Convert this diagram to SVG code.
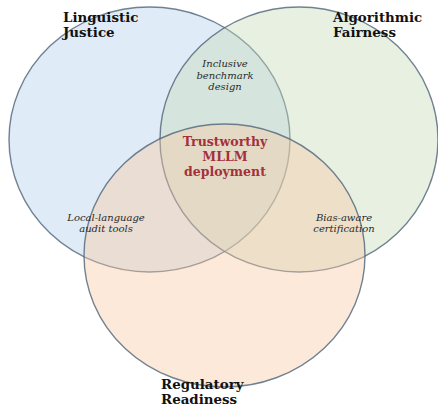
<svg xmlns="http://www.w3.org/2000/svg" width="438" height="407" viewBox="0 0 438 407">
<style>
.set{stroke:#4f6478;stroke-width:1.4;stroke-opacity:0.8}
.title{font-family:"DejaVu Serif",serif;font-weight:bold;font-size:13.4px;fill:#111}
.sub{font-family:"DejaVu Serif",serif;font-style:italic;font-size:10px;fill:#2a2a2a;text-anchor:middle}
.core{font-family:"DejaVu Serif",serif;font-weight:bold;font-size:12.5px;fill:#a3303c;text-anchor:middle}
</style>
<rect width="438" height="407" fill="#ffffff"/>
<g id="linguistic-justice">
<ellipse class="set" cx="149.5" cy="139.5" rx="140.5" ry="132.5" fill="#aecde8" fill-opacity="0.4"/>
</g>
<g id="algorithmic-fairness">
<ellipse class="set" cx="299" cy="139.5" rx="139" ry="132.5" fill="#c5d9b6" fill-opacity="0.4"/>
</g>
<g id="regulatory-readiness">
<ellipse class="set" cx="224.5" cy="255.5" rx="140.5" ry="131.5" fill="#f7c8a3" fill-opacity="0.4"/>
</g>
<g id="connectors"></g>
<g id="labels">
<text class="title" x="63" y="22">Linguistic</text>
<text class="title" x="63" y="37">Justice</text>
<text class="title" x="333" y="22">Algorithmic</text>
<text class="title" x="333" y="37">Fairness</text>
<text class="title" x="161" y="389">Regulatory</text>
<text class="title" x="161" y="403.5">Readiness</text>
<text class="sub" x="225" y="67">Inclusive</text>
<text class="sub" x="225" y="79">benchmark</text>
<text class="sub" x="225" y="90">design</text>
<text class="sub" x="106" y="221">Local-language</text>
<text class="sub" x="106" y="232">audit tools</text>
<text class="sub" x="344" y="221">Bias-aware</text>
<text class="sub" x="344" y="232">certification</text>
<text class="core" x="225" y="146">Trustworthy</text>
<text class="core" x="225" y="161">MLLM</text>
<text class="core" x="225" y="176">deployment</text>
</g>
</svg>
